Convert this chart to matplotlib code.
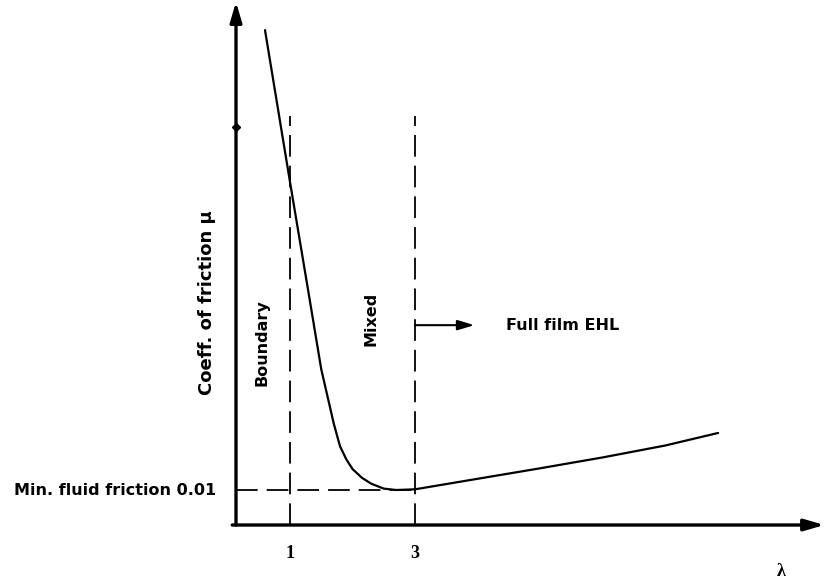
import matplotlib
matplotlib.use('Agg')
import matplotlib.pyplot as plt

# Stribeck-type curve (lambda, friction coefficient)
lam = [0.6, 1.0, 1.3, 1.5, 1.7, 1.8, 1.9, 2.0, 2.15, 2.3, 2.5, 2.7, 3.0, 4.0, 5.0, 6.0, 7.0, 7.85]
mu = [0.1414, 0.098, 0.066, 0.0445, 0.029, 0.0225, 0.0188, 0.016, 0.0135, 0.0118, 0.0104, 0.0100,
      0.0102, 0.0132, 0.0162, 0.0193, 0.0227, 0.0263]

regime_lams = [1, 3]
regime_tick_labels = ['1', '3']
mu_min = 0.01
regime_names = ['Boundary', 'Mixed']
regime_label_x = [0.55, 2.3]
regime_label_y = [0.052, 0.059]

fig = plt.figure(figsize=(8.33, 5.8), dpi=100)
ax = fig.add_axes([0, 0, 1, 1])
ax.set_xlim(-3.64, 9.688)
ax.set_ylim(-0.01571, 0.15)
ax.axis('off')

x0 = 0.136  # where the vertical axis sits
sans = ['DejaVu Sans']
serif = ['Liberation Serif', 'DejaVu Serif']

# axes with arrow heads
ax.annotate('', xy=(x0, 0.1495), xytext=(x0, 0),
            arrowprops=dict(arrowstyle='-|>,head_length=1.2,head_width=0.35', lw=2.4, color='black',
                            shrinkA=0, shrinkB=0))
ax.annotate('', xy=(9.55, 0), xytext=(x0 - 0.06, 0),
            arrowprops=dict(arrowstyle='-|>,head_length=1.2,head_width=0.35', lw=2.4, color='black',
                            shrinkA=0, shrinkB=0))
ax.plot([x0], [0.1137], marker='D', ms=4, color='black')

# the curve
ax.plot(lam, mu, color='black', lw=1.6, solid_capstyle='round')

# regime boundaries
for xv in regime_lams:
    ax.plot([xv, xv], [0, 0.117], color='black', lw=1.3, dashes=(12, 5))
ax.plot([x0, regime_lams[1]], [mu_min, mu_min], color='black', lw=1.3, dashes=(12, 5))

# full film arrow
ax.annotate('', xy=(3.95, 0.0571), xytext=(regime_lams[1], 0.0571),
            arrowprops=dict(arrowstyle='-|>,head_length=1.0,head_width=0.3', lw=1.5, color='black',
                            shrinkA=0, shrinkB=0))
ax.text(4.45, 0.0571, 'Full film EHL', fontsize=11.5, fontweight='bold', family=sans,
        ha='left', va='center')

for name, xv, yv in zip(regime_names, regime_label_x, regime_label_y):
    ax.text(xv, yv, name, rotation=90, fontsize=11.5, fontweight='bold', family=sans,
            ha='center', va='center')

ax.text(-0.32, 0.0635, 'Coeff. of friction μ', rotation=90, fontsize=13, fontweight='bold',
        family=sans, ha='center', va='center')
ax.text(-3.42, mu_min, 'Min. fluid friction 0.01', fontsize=11.5, fontweight='bold', family=sans,
        ha='left', va='center')

for xv, lab in zip(regime_lams, regime_tick_labels):
    ax.text(xv, -0.008, lab, fontsize=13, fontweight='bold', family=serif, ha='center', va='center')
ax.text(8.86, -0.0134, 'λ', fontsize=13, fontweight='bold', family=serif, ha='center', va='center')

fig.savefig('out.png', dpi=100)
